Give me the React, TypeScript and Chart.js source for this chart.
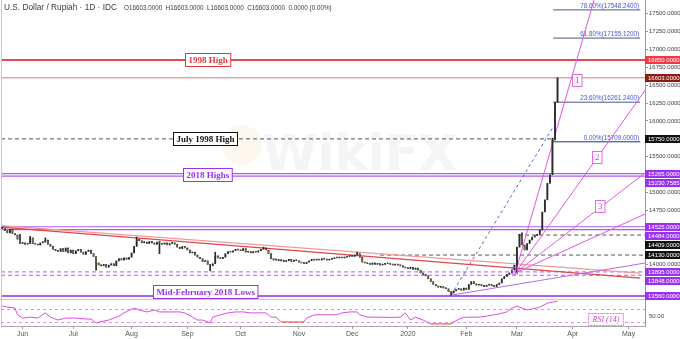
import { useEffect, useRef } from 'react';
import { Chart, registerables } from 'chart.js';

Chart.register(...registerables);

// ---------------- data ----------------
const START_DATE = '2019-05-22';
const SLOT_COUNT = 254; // weekday slots from START_DATE to 2020-05-11
const monthTickLabels = ['Jun', 'Jul', 'Aug', 'Sep', 'Oct', 'Nov', 'Dec', '2020', 'Feb', 'Mar', 'Apr', 'May'];

const firstOpen = 14520;
const closes = [
  14500, 14470, 14440, 14490, 14430, 14410, 14350, 14290, 14300, 14280,
  14290, 14370, 14290, 14280, 14270, 14300, 14310, 14340, 14280, 14250,
  14210, 14190, 14180, 14220, 14180, 14230, 14160, 14200, 14150, 14190,
  14210, 14170, 14140, 14180, 14200, 14150, 14110, 14020, 13990, 13980,
  14000, 13960, 13990, 14010, 13980, 14050, 14080, 14060, 14090, 14070,
  14100, 14160, 14250, 14350, 14330, 14300, 14310, 14290, 14320, 14300,
  14280, 14310, 14290, 14280, 14300, 14270, 14290, 14300, 14280, 14240,
  14220, 14250, 14230, 14200, 14160, 14170, 14130, 14100, 14080, 14040,
  14050, 14000, 13980, 14010, 14120, 14090, 14080, 14100, 14150, 14180,
  14170, 14190, 14210, 14200, 14190, 14220, 14170, 14180, 14160, 14180,
  14170, 14190, 14210, 14230, 14200, 14150, 14080, 14060, 14070, 14050,
  14060, 14040, 14050, 14070, 14040, 14060, 14050, 14030, 14020, 14010,
  14030, 14050, 14070, 14060, 14070, 14060, 14080, 14070, 14060, 14070,
  14080, 14090, 14090, 14100, 14090, 14100, 14110, 14120, 14110, 14130,
  14150, 14100, 14030, 14020, 14010, 14000, 14020, 14000, 14010, 13990,
  14000, 14010, 14010, 14000, 13990, 14000, 13990, 13980, 13960, 13950,
  13940, 13960, 13930, 13950, 13920, 13880, 13860, 13840, 13800, 13760,
  13720, 13700, 13680, 13690, 13670, 13660, 13620, 13600, 13630, 13650,
  13660, 13640, 13670, 13650, 13720, 13760, 13730, 13710, 13720, 13700,
  13690, 13710, 13720, 13700, 13690, 13720, 13740, 13800, 13830, 13860,
  13880, 13920, 13990, 14240, 14420, 14270, 14200, 14290, 14340, 14380,
  14400, 14420, 14480, 14730, 14900, 15130, 15250, 15735, 16261, 16603,
];
const highWicks: Record<number, number> = {
  7: 14420, 11: 14390, 17: 14370, 53: 14380, 62: 14320, 84: 14170, 103: 14240,
  140: 14170, 205: 14440, 217: 15760,
};
const lowWicks: Record<number, number> = {
  37: 13920, 62: 14150, 82: 13910, 177: 13570, 203: 13890,
};

const rsiIdx = [
  0, 2, 5, 6, 8, 11, 14, 17, 19, 22, 25, 29, 33, 35, 37, 40, 42, 46, 48, 52,
  54, 57, 60, 62, 66, 70, 72, 75, 77, 79, 82, 83, 86, 89, 92, 95, 98, 102, 104, 106,
  108, 110, 114, 119, 120, 123, 127, 132, 134, 137, 140, 141, 144, 149, 153, 157, 159, 161, 163, 166,
  169, 173, 177, 178, 181, 183, 188, 191, 196, 199, 201, 203, 205, 207, 209, 212, 215, 217, 219,
];
const rsiVals = [
  79, 76, 73, 52, 42, 45, 42, 58, 45, 36, 42, 42, 39, 39, 27, 33, 36, 48, 58, 73,
  67, 61, 67, 61, 61, 61, 58, 45, 36, 36, 27, 45, 52, 58, 61, 61, 58, 58, 58, 45,
  45, 30, 30, 30, 42, 52, 52, 52, 58, 61, 61, 52, 45, 45, 44, 45, 58, 36, 45, 36,
  24, 24, 24, 30, 42, 45, 45, 48, 55, 61, 73, 79, 73, 67, 70, 76, 88, 91, 94,
];

const priceTicks = [14000, 14250, 14500, 14750, 15000, 15250, 15500, 15750, 16000, 16250, 16500, 16750, 17000, 17250, 17500];
const levelPrices = [16850, 16603, 15750, 15265, 15230.7585, 14525, 14484, 14409, 14130, 13895, 13848, 13560];
const fibLabels = ['78.60%', '61.80%', '23.60%', '0.00%'];
const fibPrices = [17548.24, 17155.12, 16261.24, 15709];
const noteTexts = ['1998 High', 'July 1998 High', '2018 Highs', 'Mid-February 2018 Lows'];
const fanNames = ['1', '2', '3'];

// ---------------- scale bounds & styling ----------------
const PRICE_MIN = 13141;
const PRICE_MAX = 17686;
const RSI_MIN = 17.7;
const RSI_MAX = 1020.8;
const PANE_SPLIT_PRICE = 13533;
const PURPLE = '#ad5cf2';
const PURPLE_BOX = '#9b30f0';
const DARK_DASH = '#555555';
const PINK = '#e256e6';
const SANS = '"Liberation Sans", Arial, sans-serif';
const SERIF = '"Liberation Serif", "Times New Roman", serif';

const levelStyles: any[] = [
  { line: '#e8474f', width: 2, dash: [], box: '#f23645' },
  { line: '#d9aaa7', width: 1.5, dash: [], box: '#8c1c13' },
  { line: DARK_DASH, width: 1, dash: [4, 3], box: '#111111', to: 217.3 },
  { line: PURPLE, width: 1.2, dash: [], box: PURPLE_BOX },
  { line: PURPLE, width: 1.2, dash: [], box: PURPLE_BOX },
  { line: PURPLE, width: 1.2, dash: [], box: PURPLE_BOX },
  { line: PURPLE, width: 1.2, dash: [], box: PURPLE_BOX },
  { line: DARK_DASH, width: 1, dash: [4, 3], box: '#111111', from: 203.5 },
  { line: DARK_DASH, width: 1, dash: [4, 3], box: '#111111', from: 149 },
  { line: PURPLE, width: 1, dash: [4, 3], box: PURPLE_BOX },
  { line: PURPLE, width: 1, dash: [4, 3], box: PURPLE_BOX },
  { line: PURPLE, width: 2, dash: [], box: PURPLE_BOX },
];
const noteStyles: any[] = [
  { i: 80.8, v: 16850, color: '#e0383f' },
  { i: 80, v: 15750, color: '#111111' },
  { i: 80.8, v: 15248, color: '#9b30f0' },
  { i: 80, v: 13628, color: '#9b30f0' },
];
const trendLines: any[] = [
  { a: { i: -0.5, v: 14540 }, b: { i: 251.6, v: 13878 }, color: '#f19a9a', width: 1.3 },
  { a: { i: -0.5, v: 14519 }, b: { i: 251.6, v: 13808 }, color: '#e0454b', width: 1.3 },
  { a: { i: 177.4, v: 13572 }, b: { i: 253.5, v: 14019 }, color: '#b36be8', width: 1 },
];
const fibDiag = { a: { i: 177, v: 13570 }, b: { i: 217, v: 15900 } };
const FIB_FROM = 217.3;
const FIB_TO = 251.6;
const fanOrigin = { i: 202.3, v: 13880 };
const fanEnds = [
  { i: 233.4, v: 17686 },
  { i: 252.8, v: 16390 },
  { i: 253.5, v: 15274 },
  { i: 253.5, v: 14702 },
];
const fanLabelPos = [
  { i: 226.7, v: 16571 },
  { i: 234.6, v: 15497 },
  { i: 235.8, v: 14814 },
];
const markBox = { a: { i: 201.1, v: 13960 }, b: { i: 203.2, v: 13865 } };

function buildDates(): Date[] {
  const out: Date[] = [];
  const d = new Date(START_DATE + 'T00:00:00Z');
  while (out.length < SLOT_COUNT) {
    const wd = d.getUTCDay();
    if (wd !== 0 && wd !== 6) out.push(new Date(d.getTime()));
    d.setUTCDate(d.getUTCDate() + 1);
  }
  return out;
}

function boxText(ctx: any, cx: number, cy: number, text: string, font: string, color: string, border: string, h: number, padX: number, dash: number[] = []) {
  ctx.save();
  ctx.font = font;
  const w = ctx.measureText(text).width + padX * 2;
  const x0 = Math.round(cx - w / 2) + 0.5;
  const y0 = Math.round(cy - h / 2) + 0.5;
  ctx.fillStyle = '#ffffff';
  ctx.fillRect(x0, y0, w, h);
  ctx.setLineDash(dash);
  ctx.strokeStyle = border;
  ctx.lineWidth = 1;
  ctx.strokeRect(x0, y0, w, h);
  ctx.setLineDash([]);
  ctx.fillStyle = color;
  ctx.textAlign = 'center';
  ctx.textBaseline = 'middle';
  ctx.fillText(text, x0 + w / 2, y0 + h / 2 + 0.5);
  ctx.restore();
}

export default function App() {
  const ref = useRef<HTMLCanvasElement>(null);

  useEffect(() => {
    document.body.style.margin = '0';
    const canvas = ref.current as HTMLCanvasElement;
    const dates = buildDates();
    const monthIdx: number[] = [];
    for (let i = 1; i < dates.length; i++) {
      if (dates[i].getUTCMonth() !== dates[i - 1].getUTCMonth()) monthIdx.push(i);
    }
    const monthLabelAt = new Map<number, string>();
    monthIdx.forEach((ix, k) => monthLabelAt.set(ix, monthTickLabels[k] ?? ''));

    const opens = closes.map((c, i) => (i === 0 ? firstOpen : closes[i - 1]));
    const bodies = closes.map((c, i) => ({ x: i, y: [opens[i], c] }));
    const wicks = closes.map((c, i) => ({
      x: i,
      y: [lowWicks[i] ?? Math.min(opens[i], c), highWicks[i] ?? Math.max(opens[i], c)],
    }));
    const bodyColors = closes.map((c, i) => (c >= opens[i] ? '#2e2e2e' : '#8f7a4c'));
    const rsiData = rsiIdx.map((x, k) => ({ x, y: rsiVals[k] }));

    const annot = {
      id: 'annot',
      beforeDatasetsDraw(chart: any) {
        const { ctx, chartArea: ca, scales } = chart;
        const X = (i: number) => scales.x.getPixelForValue(i);
        const Y = (v: number) => scales.y.getPixelForValue(v);
        const R = (r: number) => scales.yr.getPixelForValue(r);
        const paneY = Y(PANE_SPLIT_PRICE);
        ctx.save();

        // watermark
        ctx.font = 'bold 50px "DejaVu Sans", sans-serif';
        ctx.fillStyle = 'rgba(175,178,190,0.13)';
        ctx.textBaseline = 'alphabetic';
        ctx.fillText('WikiFX', 262, 170);
        ctx.beginPath();
        ctx.arc(242, 145, 20, 0, Math.PI * 2);
        ctx.fillStyle = 'rgba(240,200,120,0.12)';
        ctx.fill();

        // main pane clip
        ctx.save();
        ctx.beginPath();
        ctx.rect(ca.left, ca.top, ca.right - ca.left, paneY - ca.top);
        ctx.clip();

        levelPrices.forEach((p, k) => {
          const st = levelStyles[k];
          const x0 = st.from !== undefined ? X(st.from) : ca.left;
          const x1 = st.to !== undefined ? X(st.to) : ca.right;
          ctx.beginPath();
          ctx.setLineDash(st.dash);
          ctx.strokeStyle = st.line;
          ctx.lineWidth = st.width;
          ctx.moveTo(x0, Y(p));
          ctx.lineTo(x1, Y(p));
          ctx.stroke();
        });
        ctx.setLineDash([]);

        trendLines.forEach((t) => {
          ctx.beginPath();
          ctx.strokeStyle = t.color;
          ctx.lineWidth = t.width;
          ctx.moveTo(X(t.a.i), Y(t.a.v));
          ctx.lineTo(X(t.b.i), Y(t.b.v));
          ctx.stroke();
        });

        // fib diagonal
        ctx.beginPath();
        ctx.setLineDash([3, 3]);
        ctx.strokeStyle = '#5865c8';
        ctx.lineWidth = 1;
        ctx.moveTo(X(fibDiag.a.i), Y(fibDiag.a.v));
        ctx.lineTo(X(fibDiag.b.i), Y(fibDiag.b.v));
        ctx.stroke();
        ctx.setLineDash([]);

        // fib levels
        fibPrices.forEach((p, k) => {
          ctx.beginPath();
          ctx.strokeStyle = k === 3 ? '#26307a' : '#4a568f';
          ctx.lineWidth = 1;
          ctx.moveTo(X(FIB_FROM), Y(p));
          ctx.lineTo(X(FIB_TO), Y(p));
          ctx.stroke();
          ctx.font = '6.3px ' + SANS;
          ctx.fillStyle = '#4656d6';
          ctx.textAlign = 'right';
          ctx.textBaseline = 'alphabetic';
          ctx.fillText(fibLabels[k] + '(' + p.toFixed(4) + ')', X(FIB_TO) - 1, Y(p) - 2);
        });

        // fan lines
        const ox = X(fanOrigin.i);
        const oy = Y(fanOrigin.v);
        fanEnds.forEach((e) => {
          const ex = X(e.i);
          const ey = Y(e.v);
          ctx.beginPath();
          ctx.strokeStyle = PINK;
          ctx.lineWidth = 1;
          ctx.moveTo(ox, oy);
          ctx.lineTo(ox + (ex - ox) * 1.3, oy + (ey - oy) * 1.3);
          ctx.stroke();
        });
        ctx.restore();

        // RSI guide lines
        ctx.save();
        ctx.setLineDash([3, 3]);
        ctx.strokeStyle = '#e58be8';
        ctx.lineWidth = 1;
        [70, 30].forEach((r) => {
          ctx.beginPath();
          ctx.moveTo(ca.left, Math.round(R(r)) + 0.5);
          ctx.lineTo(ca.right, Math.round(R(r)) + 0.5);
          ctx.stroke();
        });
        ctx.restore();

        // pane separator and left edge
        ctx.strokeStyle = '#c8c8c8';
        ctx.lineWidth = 1;
        ctx.beginPath();
        ctx.moveTo(0, Math.round(paneY) + 1.5);
        ctx.lineTo(680, Math.round(paneY) + 1.5);
        ctx.moveTo(ca.left + 0.5, ca.top);
        ctx.lineTo(ca.left + 0.5, ca.bottom);
        ctx.stroke();
        ctx.restore();
      },
      afterDatasetsDraw(chart: any) {
        const { ctx, scales } = chart;
        const X = (i: number) => scales.x.getPixelForValue(i);
        const Y = (v: number) => scales.y.getPixelForValue(v);
        const R = (r: number) => scales.yr.getPixelForValue(r);

        // small purple mark box
        ctx.save();
        ctx.strokeStyle = PURPLE;
        ctx.lineWidth = 1;
        const bx0 = X(markBox.a.i);
        const by0 = Y(markBox.a.v);
        ctx.strokeRect(bx0, by0, X(markBox.b.i) - bx0, Y(markBox.b.v) - by0);
        ctx.restore();

        noteTexts.forEach((t, k) => {
          const st = noteStyles[k];
          boxText(ctx, X(st.i), Y(st.v), t, 'bold 9px ' + SERIF, st.color, st.color, 13, 3);
        });
        fanNames.forEach((t, k) => {
          const p = fanLabelPos[k];
          boxText(ctx, X(p.i), Y(p.v), t, '9px ' + SERIF, '#d23ad6', '#e36be6', 12, 2.5);
        });
        boxText(ctx, 605, R(38), 'RSI (14)', 'italic 8px ' + SERIF, '#d23ad6', '#e36be6', 12, 4, [2, 1]);
      },
      afterDraw(chart: any) {
        const { ctx, chartArea: ca, scales } = chart;
        const Y = (v: number) => scales.y.getPixelForValue(v);
        const R = (r: number) => scales.yr.getPixelForValue(r);
        ctx.save();
        // right axis level tags (pushed apart to avoid overlap)
        const tags = levelPrices
          .map((p, k) => ({ p, k, y: Y(p) }))
          .sort((a, b) => a.y - b.y);
        let prev = -100;
        tags.forEach((t) => {
          t.y = Math.max(t.y, prev + 9);
          prev = t.y;
        });
        ctx.font = '6px ' + SANS;
        ctx.textBaseline = 'middle';
        ctx.textAlign = 'left';
        tags.forEach((t) => {
          const y0 = Math.round(t.y - 4);
          ctx.fillStyle = levelStyles[t.k].box;
          ctx.fillRect(ca.right, y0, 680 - ca.right, 8);
          ctx.fillStyle = '#ffffff';
          ctx.fillText(t.p.toFixed(4), ca.right + 3, y0 + 4.5);
        });
        // RSI axis value
        ctx.fillStyle = '#444444';
        ctx.fillText('50.00', ca.right + 4, R(50) + 1);

        // title
        ctx.textBaseline = 'alphabetic';
        ctx.fillStyle = '#3c3c3c';
        ctx.font = '8.3px ' + SANS;
        ctx.fillText('U.S. Dollar / Rupiah · 1D · IDC', 4, 10);
        ctx.font = '6.3px ' + SANS;
        ctx.fillText('O16603.0000  H16603.0000  L16603.0000  C16603.0000  0.0000 (0.00%)', 124, 10);
        ctx.restore();
      },
    };

    const chart = new Chart(canvas, {
      type: 'bar',
      data: {
        datasets: [
          {
            type: 'bar',
            label: 'wicks',
            data: wicks as any,
            backgroundColor: '#2a2a2a',
            barThickness: 1,
            grouped: false,
            order: 3,
            yAxisID: 'y',
            xAxisID: 'x',
          } as any,
          {
            type: 'bar',
            label: 'bodies',
            data: bodies as any,
            backgroundColor: bodyColors,
            borderColor: '#2a2a2a',
            borderWidth: 0.5,
            barPercentage: 0.78,
            categoryPercentage: 1,
            minBarLength: 1.5,
            grouped: false,
            order: 2,
            yAxisID: 'y',
            xAxisID: 'x',
          } as any,
          {
            type: 'line',
            label: 'RSI',
            data: rsiData as any,
            borderColor: '#e246ec',
            borderWidth: 1,
            pointRadius: 0,
            tension: 0,
            order: 1,
            yAxisID: 'yr',
            xAxisID: 'x',
            segment: {
              borderColor: (c: any) => (c.p0.parsed.y <= 31 && c.p1.parsed.y <= 31 ? '#e53935' : undefined),
            },
          } as any,
        ],
      },
      options: {
        responsive: false,
        animation: false,
        devicePixelRatio: 1,
        layout: { padding: { left: 1, right: 0, top: 0, bottom: 0 } },
        plugins: { legend: { display: false }, tooltip: { enabled: false } },
        scales: {
          x: {
            type: 'linear',
            min: -0.5,
            max: SLOT_COUNT - 0.5,
            offset: false,
            position: 'bottom',
            grid: { offset: false, drawOnChartArea: false, tickLength: 3, color: '#999999' },
            border: { display: true, color: '#aaaaaa' },
            afterBuildTicks: (s: any) => {
              s.ticks = monthIdx.map((v) => ({ value: v }));
            },
            afterFit: (s: any) => {
              s.height = 13;
              s.paddingLeft = 0;
              s.paddingRight = 0;
            },
            ticks: {
              autoSkip: false,
              maxRotation: 0,
              padding: 1,
              color: '#555555',
              font: { size: 7, family: SANS },
              callback: (v: any) => monthLabelAt.get(Number(v)) ?? '',
            },
          } as any,
          y: {
            type: 'linear',
            position: 'right',
            min: PRICE_MIN,
            max: PRICE_MAX,
            beginAtZero: false,
            grid: { drawOnChartArea: false, tickLength: 3, color: '#999999' },
            border: { display: true, color: '#999999' },
            afterBuildTicks: (s: any) => {
              s.ticks = priceTicks.map((v) => ({ value: v }));
            },
            afterFit: (s: any) => {
              s.width = 35;
              s.paddingTop = 0;
              s.paddingBottom = 0;
            },
            ticks: {
              padding: 1,
              color: '#444444',
              font: { size: 6, family: SANS },
              callback: (v: any) => Number(v).toFixed(4),
            },
          } as any,
          yr: {
            type: 'linear',
            display: false,
            min: RSI_MIN,
            max: RSI_MAX,
            beginAtZero: false,
          } as any,
        },
      },
      plugins: [annot],
    } as any);

    return () => chart.destroy();
  }, []);

  return (
    <div style={{ position: 'absolute', left: 0, top: 0, width: 680, height: 339, background: '#ffffff' }}>
      <canvas ref={ref} width={680} height={339} style={{ display: 'block', width: 680, height: 339 }} />
    </div>
  );
}
